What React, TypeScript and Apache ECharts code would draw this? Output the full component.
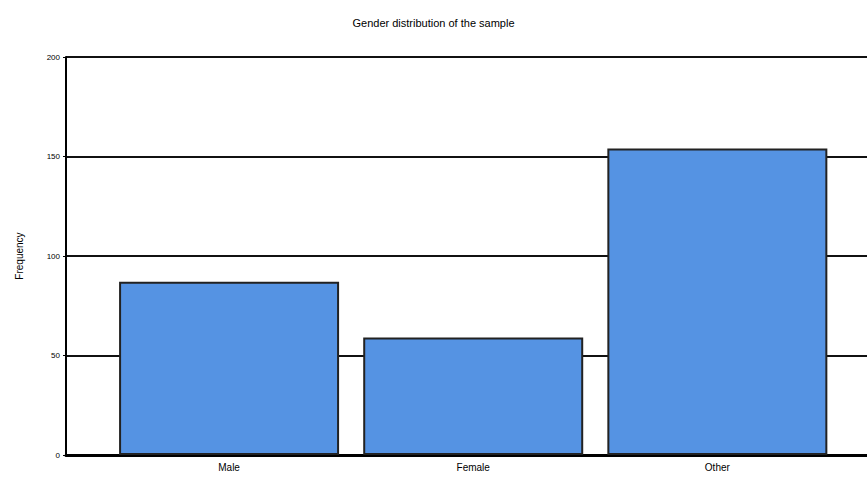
import React, { useEffect, useRef } from "react";
import * as echarts from "echarts";

const categories = ["Male", "Female", "Other"];
const values = [87, 59, 154];
const yTicks = [0, 50, 100, 150, 200];
const titleText = "Gender distribution of the sample";
const yName = "Frequency";

export default function App() {
  const ref = useRef<HTMLDivElement>(null);
  useEffect(() => {
    if (!ref.current) return;
    const chart = echarts.init(ref.current, null, { renderer: "svg" });
    chart.setOption({
      animation: false,
      backgroundColor: "#ffffff",
      title: {
        text: titleText,
        left: "center",
        top: 12,
        textStyle: { fontSize: 11, fontWeight: "normal", color: "#000", fontFamily: "Liberation Sans" },
      },
      grid: { left: 66, right: 0, top: 57, bottom: 24, containLabel: false },
      xAxis: {
        type: "value",
        min: -0.668,
        max: 2.613,
        splitLine: { show: false },
        axisLine: { show: true, onZero: false, lineStyle: { color: "#000", width: 3 } },
        axisTick: { show: false },
        axisLabel: {
          customValues: [0, 1, 2],
          formatter: (v: number) => categories[Math.round(v)] ?? "",
          fontSize: 10,
          color: "#000",
          margin: 7,
          fontFamily: "Liberation Sans",
        },
      },
      yAxis: {
        type: "value",
        min: yTicks[0],
        max: yTicks[yTicks.length - 1],
        interval: 50,
        name: yName,
        nameLocation: "middle",
        nameGap: 42,
        nameTextStyle: { fontSize: 10, color: "#000", fontFamily: "Liberation Sans" },
        axisLine: { show: true, onZero: false, lineStyle: { color: "#000", width: 2 } },
        axisTick: { show: true, length: 3, lineStyle: { color: "#000" } },
        axisLabel: { fontSize: 8, color: "#000", margin: 6, fontFamily: "Liberation Sans" },
        splitLine: { show: true, lineStyle: { color: "#111", width: 2 } },
      },
      series: [
        {
          type: "bar",
          data: values.map((v, i) => [i, v]),
          barWidth: 220,
          itemStyle: { color: "#5593e3", borderColor: "#222", borderWidth: 2 },
        },
      ],
    });
    return () => chart.dispose();
  }, []);
  return <div ref={ref} style={{ width: 867, height: 479, position: "absolute", left: 0, top: 0 }} />;
}
